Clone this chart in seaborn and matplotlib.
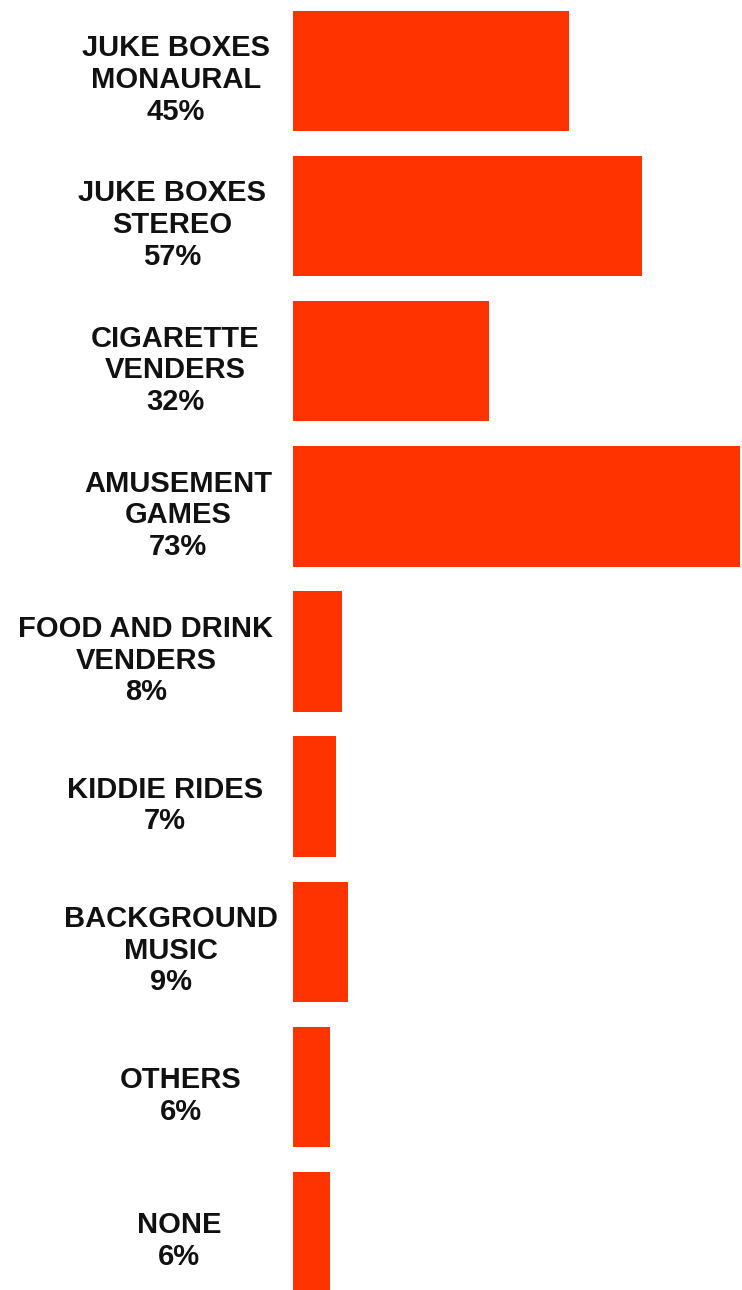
import matplotlib
matplotlib.use("Agg")
import matplotlib.pyplot as plt
import matplotlib.transforms as mtransforms
import seaborn as sns
import pandas as pd

# ---- data ----
categories = [
    "JUKE BOXES\nMONAURAL",
    "JUKE BOXES\nSTEREO",
    "CIGARETTE\nVENDERS",
    "AMUSEMENT\nGAMES",
    "FOOD AND DRINK\nVENDERS",
    "KIDDIE RIDES",
    "BACKGROUND\nMUSIC",
    "OTHERS",
    "NONE",
]
percent = [45, 57, 32, 73, 8, 7, 9, 6, 6]

# ---- layout (pixels on a 742x1290 canvas) ----
W, H = 742, 1290
BAR_LEFT_PX = 293
PX_PER_PCT = 6.13
label_center_px = [176, 172, 175, 178, 146, 165, 171, 181, 179]
BAR_COLOR = "#FF3300"

sns.set_theme(style="white")
plt.rcParams["font.family"] = ["Liberation Sans", "DejaVu Sans"]

df = pd.DataFrame({"category": categories, "percent": percent})

fig = plt.figure(figsize=(W / 100, H / 100), dpi=100)
fig.patch.set_facecolor("white")
ax = fig.add_axes([BAR_LEFT_PX / W, 0, 1 - BAR_LEFT_PX / W, 1])

sns.barplot(data=df, x="percent", y="category", order=categories,
            color=BAR_COLOR, saturation=1, width=0.83, ax=ax, orient="h")

pitch = (1232 - 71) / 8
top = 0 - 71 / pitch
bottom = 8 + (H - 1232) / pitch
ax.set_ylim(bottom, top)
ax.set_xlim(0, (W - BAR_LEFT_PX) / PX_PER_PCT)

ax.set_axis_off()
for p in ax.patches:
    p.set_edgecolor("none")

trans = mtransforms.blended_transform_factory(fig.transFigure, ax.transData)
trans = mtransforms.offset_copy(trans, fig=fig, x=0, y=-9, units="dots")
for i, (cat, pct) in enumerate(zip(categories, percent)):
    ax.text(label_center_px[i] / W, i, f"{cat}\n{pct}%", transform=trans,
            ha="center", va="center", multialignment="center",
            fontsize=21, fontweight="bold", color="#111111",
            linespacing=1.17, clip_on=False)

fig.savefig("out.png", dpi=100, facecolor="white")
